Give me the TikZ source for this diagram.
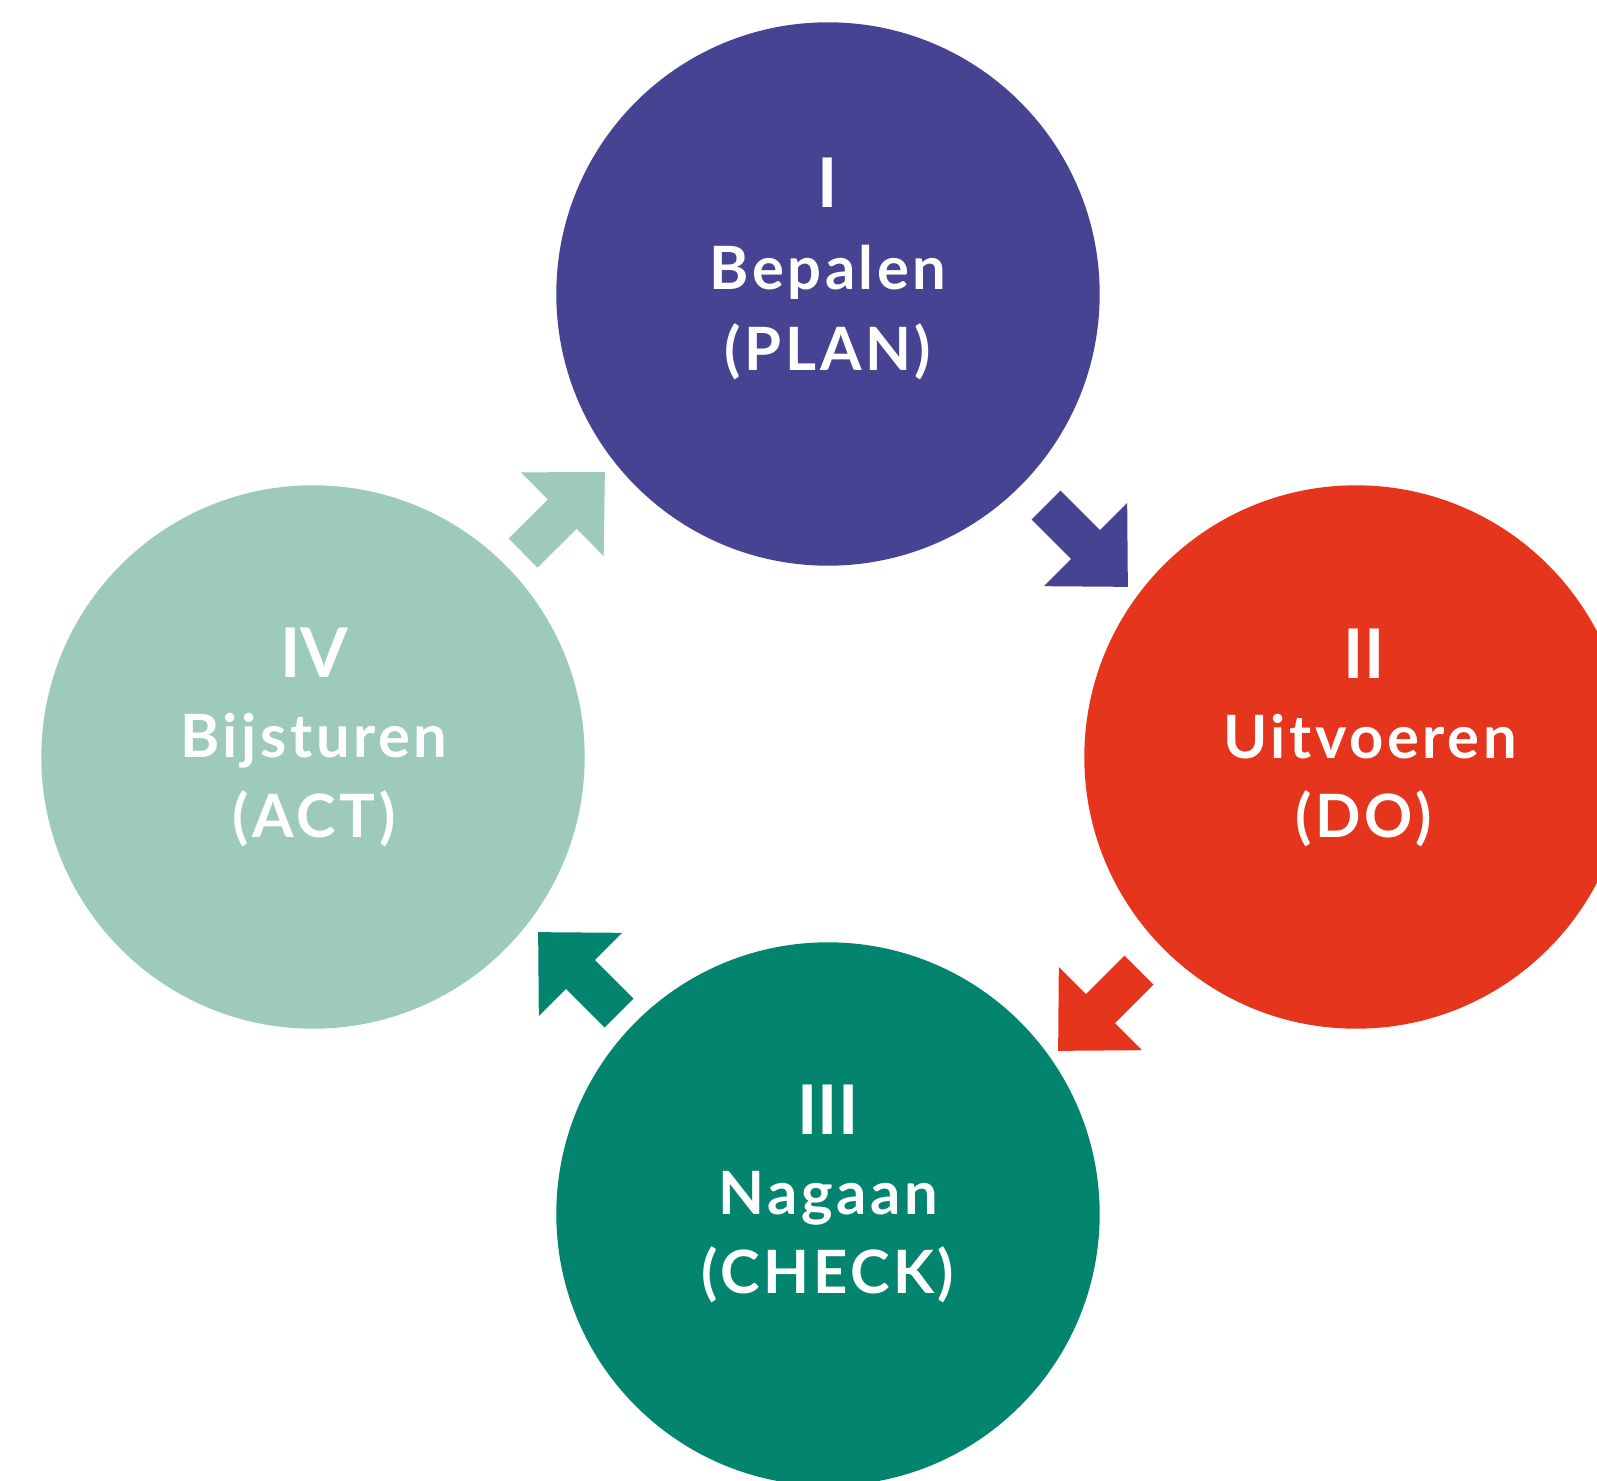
\documentclass[tikz,border=0pt]{standalone}
\usepackage{fontspec}
\setmainfont{Lato}
\usepackage{tikz}
\usetikzlibrary{arrows.meta}

\definecolor{planc}{RGB}{71,67,147}
\definecolor{doc}{RGB}{230,53,29}
\definecolor{checkc}{RGB}{2,132,111}
\definecolor{actc}{RGB}{157,202,189}

\tikzset{
  fase/.style={circle, inner sep=0pt, minimum size=10.87cm},
  nummer/.style={anchor=base, text=white, inner sep=0pt, font=\fontsize{39}{39}\selectfont\bfseries},
  naam/.style={anchor=base, text=white, inner sep=0pt, font=\fontsize{34}{34}\selectfont\bfseries\addfontfeature{LetterSpace=6}},
  pijl/.style={line width=0.82cm, -{Triangle[width=2.28cm,length=1.2cm]}}
}

\begin{document}
\begin{tikzpicture}[x=0.02cm,y=-0.02cm]
\clip (0,0) rectangle (1597,1481);
% circles
\node[fase,fill=planc] (plan) at (828,294) {};
\node[fase,fill=doc] (do) at (1356,757) {};
\node[fase,fill=checkc] (check) at (828,1214) {};
\node[fase,fill=actc] (act) at (313,757) {};
% texts
\node[nummer] (plannr) at (828,207) {I};
\node[naam] (plannaam) at (828,289) {Bepalen};
\node[naam] (planeng) at (828,370) {(PLAN)};
\node[nummer] (donr) at (1364,678) {II};
\node[naam] (donaam) at (1370,758) {Uitvoeren};
\node[naam] (doeng) at (1364,837) {(DO)};
\node[nummer] (checknr) at (828,1134) {III};
\node[naam] (checknaam) at (828,1214) {Nagaan};
\node[naam] (checkeng) at (828,1293) {(CHECK)};
\node[nummer] (actnr) at (314,677) {IV};
\node[naam] (actnaam) at (314,757) {Bijsturen};
\node[naam] (acteng) at (314,837) {(ACT)};
% arrows
\coordinate (p1) at (1046,505);
\coordinate (p2) at (1128,587);
\coordinate (d1) at (1139,970);
\coordinate (d2) at (1058,1051);
\coordinate (c1) at (619,1013);
\coordinate (c2) at (538,932);
\coordinate (a1) at (523,553);
\coordinate (a2) at (605,472);
\draw[pijl,draw=planc,fill=planc] (p1) -- (p2);
\draw[pijl,draw=doc,fill=doc] (d1) -- (d2);
\draw[pijl,draw=checkc,fill=checkc] (c1) -- (c2);
\draw[pijl,draw=actc,fill=actc] (a1) -- (a2);
\end{tikzpicture}
\end{document}
